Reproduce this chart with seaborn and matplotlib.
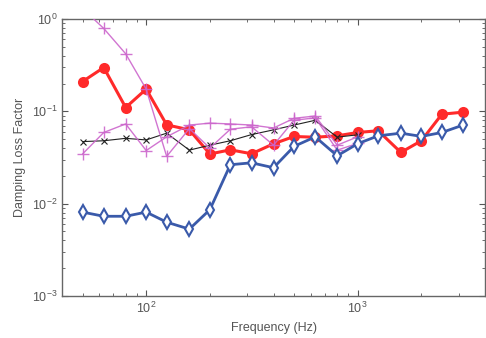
import numpy as np
import pandas as pd
import seaborn as sns
import matplotlib
matplotlib.use("Agg")
import matplotlib.pyplot as plt
from matplotlib.ticker import NullFormatter, LogLocator

freq_full = [50, 63, 80, 100, 125, 160, 200, 250, 315, 400, 500, 630, 800,
             1000, 1250, 1600, 2000, 2500, 3150]
freq_low = freq_full[:14]

blue_vals = [0.0081, 0.0073, 0.0073, 0.0081, 0.0063, 0.0053, 0.0086, 0.0264,
             0.0277, 0.0245, 0.0417, 0.0529, 0.033, 0.0446, 0.0543, 0.058,
             0.0535, 0.059, 0.071]
red_vals = [0.21, 0.298, 0.11, 0.174, 0.0714, 0.063, 0.0345, 0.0383, 0.0347,
            0.0445, 0.0534, 0.0524, 0.0543, 0.059, 0.0616, 0.0359, 0.048,
            0.093, 0.098]
black_vals = [0.047, 0.048, 0.051, 0.049, 0.058, 0.038, 0.043, 0.048, 0.056,
              0.063, 0.071, 0.08, 0.0525, 0.0557]
magenta_a_vals = [1.3, 0.79, 0.42, 0.174, 0.0325, 0.065, 0.040, 0.064, 0.068,
                  0.043, 0.080, 0.085, 0.038, 0.045]
magenta_b_vals = [0.0345, 0.059, 0.073, 0.0376, 0.053, 0.071, 0.0745, 0.073,
                  0.071, 0.066, 0.084, 0.089, 0.043, 0.053]

sns.set_style("ticks")
plt.rcParams['font.family'] = ['Liberation Sans', 'DejaVu Sans']
plt.rcParams['mathtext.fontset'] = 'custom'
plt.rcParams['mathtext.rm'] = 'Liberation Sans'
plt.rcParams['mathtext.it'] = 'Liberation Sans'

fig = plt.figure(figsize=(4.86, 3.38), dpi=100)
ax = fig.add_axes([0.1276, 0.1243, 0.8704, 0.8195])

txt = '#555555'
mag = '#cc66cc'

sns.lineplot(x=freq_low, y=black_vals, ax=ax, color='#222222', lw=0.8,
             marker='x', markersize=4, markeredgewidth=0.8,
             markeredgecolor='#222222',
             estimator=None, sort=False, zorder=3)
sns.lineplot(x=freq_low, y=magenta_a_vals, ax=ax, color=mag, lw=1.0,
             marker='+', markersize=8, markeredgewidth=1.0,
             markeredgecolor=mag, alpha=0.9,
             estimator=None, sort=False, zorder=4)
sns.lineplot(x=freq_low, y=magenta_b_vals, ax=ax, color=mag, lw=1.0,
             marker='+', markersize=8, markeredgewidth=1.0,
             markeredgecolor=mag, alpha=0.9,
             estimator=None, sort=False, zorder=4)
sns.lineplot(x=freq_full, y=red_vals, ax=ax, color='#ff2a2a', lw=2.2,
             marker='o', markersize=8, markeredgewidth=0,
             markeredgecolor='#ff2a2a',
             estimator=None, sort=False, zorder=2)
sns.lineplot(x=freq_full, y=blue_vals, ax=ax, color='#3a5aaa', lw=2.0,
             marker='d', markersize=7, markerfacecolor='white',
             markeredgecolor='#3a5aaa', markeredgewidth=1.5,
             estimator=None, sort=False, zorder=5)

ax.set_xscale('log')
ax.set_yscale('log')
ax.set_xlim(40, 4000)
ax.set_ylim(1e-3, 1)
ax.xaxis.set_major_locator(LogLocator(base=10, numticks=10))
ax.yaxis.set_major_locator(LogLocator(base=10, numticks=10))
ax.xaxis.set_minor_formatter(NullFormatter())
ax.yaxis.set_minor_formatter(NullFormatter())

ax.tick_params(which='both', direction='in', top=True, right=True,
               colors='#555555', labelcolor=txt, labelsize=9)
ax.tick_params(which='major', length=4, width=0.8)
ax.tick_params(which='minor', length=2.5, width=0.6)
for s in ax.spines.values():
    s.set_color('#666666')
    s.set_linewidth(1.0)

ax.set_xlabel('Frequency (Hz)', color=txt, fontsize=9, labelpad=4)
ax.set_ylabel('Damping Loss Factor', color=txt, fontsize=9, labelpad=4)

fig.savefig('out.png', dpi=100)
